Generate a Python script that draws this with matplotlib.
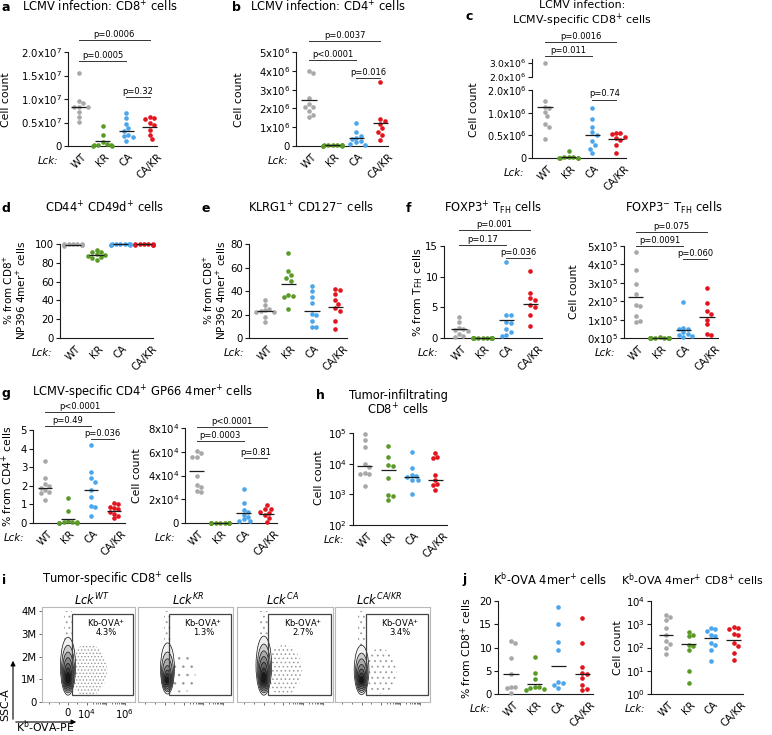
import numpy as np
import matplotlib
matplotlib.use('Agg')
import matplotlib.pyplot as plt
from matplotlib.patches import Ellipse, Rectangle
from matplotlib.ticker import NullLocator

plt.rcParams['font.family'] = ['DejaVu Sans']
plt.rcParams['mathtext.fontset'] = 'dejavusans'
plt.rcParams['hatch.linewidth'] = 0.6
plt.rcParams['hatch.color'] = '#8c8c8c'

W, H = 772, 735
GROUPS = ['WT', 'KR', 'CA', 'CA/KR']
COLORS = ['#a8a8a8', '#5b9a27', '#4ba6ec', '#e2141d']

# ---------------- data ----------------
# a: LCMV CD8+ cell count
A_WT = np.array([15.6, 9.6, 9.1, 8.4, 8.2, 8.3, 7.3, 6.1, 5.1]) * 1e6
A_KR = np.array([4.3, 2.3, 0.9, 0.4, 0.3, 0.2, 0.15, 0.1, 0.1]) * 1e6
A_CA = np.array([7.0, 5.9, 4.7, 3.8, 3.2, 2.4, 2.1, 1.9, 1.1]) * 1e6
A_CAKR = np.array([6.1, 5.9, 5.7, 4.8, 4.5, 3.5, 2.4, 1.5]) * 1e6
A_MEAN = np.array([8.25, 1.0, 3.2, 4.0]) * 1e6
A_YT = [0, 0.5e7, 1.0e7, 1.5e7, 2.0e7]
A_YL = ['0', '0.5x10$^{7}$', '1.0x10$^{7}$', '1.5x10$^{7}$', '2.0x10$^{7}$']
A_P = ['p=0.0006', 'p=0.0005', 'p=0.32']

# b: LCMV CD4+ cell count
B_WT = np.array([4.0, 3.9, 2.55, 2.25, 2.1, 2.1, 1.85, 1.65, 1.55]) * 1e6
B_KR = np.array([0.06, 0.05, 0.04, 0.04, 0.03, 0.03, 0.02, 0.02, 0.01]) * 1e6
B_CA = np.array([1.2, 0.75, 0.55, 0.45, 0.35, 0.25, 0.2, 0.12, 0.05]) * 1e6
B_CAKR = np.array([3.4, 1.45, 1.35, 1.17, 0.95, 0.77, 0.6, 0.32]) * 1e6
B_MEAN = np.array([2.46, 0.03, 0.45, 1.2]) * 1e6
B_YT = [0, 1e6, 2e6, 3e6, 4e6, 5e6]
B_YL = ['0', '1x10$^{6}$', '2x10$^{6}$', '3x10$^{6}$', '4x10$^{6}$', '5x10$^{6}$']
B_P = ['p=0.0037', 'p<0.0001', 'p=0.016']

# c: LCMV-specific CD8+ cell count (broken axis)
C_WT = np.array([2.95, 1.25, 1.13, 1.1, 1.02, 0.93, 0.75, 0.68, 0.41]) * 1e6
C_KR = np.array([0.16, 0.03, 0.02, 0.02, 0.01, 0.01, 0.01, 0.01]) * 1e6
C_CA = np.array([1.1, 0.86, 0.68, 0.58, 0.5, 0.37, 0.28, 0.2, 0.11]) * 1e6
C_CAKR = np.array([0.56, 0.55, 0.54, 0.47, 0.45, 0.4, 0.28, 0.12]) * 1e6
C_MEAN = np.array([1.12, 0.02, 0.51, 0.41]) * 1e6
C_YT_LOW = [0, 0.5e6, 1.0e6, 1.5e6]
C_YL_LOW = ['0', '0.5x10$^{6}$', '1.0x10$^{6}$', '2.0x10$^{6}$']
C_YT_UP = [2.0e6, 3.0e6]
C_YL_UP = ['2.0x10$^{6}$', '3.0x10$^{6}$']
C_P = ['p=0.0016', 'p=0.011', 'p=0.74']

# d: CD44+ CD49d+ %
D_WT = [100, 100, 99.8, 99.6, 99.5, 99.3, 99.1, 98.8, 98.2]
D_KR = [94, 92, 91, 89, 88, 87.5, 86.5, 85, 83]
D_CA = [100, 100, 100, 99.8, 99.6, 99.5, 99.4, 99.2, 99.0]
D_CAKR = [100, 100, 99.8, 99.6, 99.5, 99.4, 99.2, 99.0]
D_MEAN = [99.4, 88.4, 99.6, 99.5]
D_YT = [0, 20, 40, 60, 80, 100]

# e: KLRG1+ CD127- %
E_WT = [32, 28, 25, 23.5, 23, 22.5, 22, 18, 14]
E_KR = [72.5, 57, 53.5, 51, 48.5, 36.5, 36, 34.5, 25]
E_CA = [44.4, 40.4, 34.5, 30.2, 20.3, 19.8, 14.1, 9.3, 9.0]
E_CAKR = [41.5, 41, 37.3, 32.5, 29, 25.4, 22.6, 14.1, 7.6]
E_MEAN = [22.6, 45.8, 22.6, 26.8]
E_YT = [0, 20, 40, 60, 80]

# f left: FOXP3+ TFH %
F1_WT = [3.5, 2.6, 1.6, 1.5, 1.3, 1.2, 0.6, 0.4, 0.2]
F1_KR = [0.05, 0.04, 0.03, 0.03, 0.02, 0.02, 0.01, 0.01, 0.0]
F1_CA = [12.4, 3.8, 3.7, 2.6, 2.4, 1.5, 1.0, 0.5, 0.3]
F1_CAKR = [10.9, 7.3, 6.5, 6.2, 5.4, 5.1, 3.8, 2.0]
F1_MEAN = [1.5, 0.02, 3.0, 5.5]
F1_YT = [0, 5, 10, 15]
F1_P = ['p=0.001', 'p=0.17', 'p=0.036']

# f right: FOXP3- TFH cell count
F2_WT = np.array([4.68, 3.69, 2.91, 2.37, 1.8, 1.76, 1.22, 0.85, 0.9]) * 1e5
F2_KR = np.array([0.03, 0.02, 0.02, 0.02, 0.01, 0.01, 0.01, 0.0, 0.0]) * 1e5
F2_CA = np.array([1.98, 0.55, 0.5, 0.48, 0.3, 0.2, 0.15, 0.1, 0.05]) * 1e5
F2_CAKR = np.array([2.7, 1.92, 1.47, 1.3, 1.0, 0.75, 0.22, 0.18]) * 1e5
F2_MEAN = np.array([2.21, 0.01, 0.45, 1.13]) * 1e5
F2_YT = [0, 1e5, 2e5, 3e5, 4e5, 5e5]
F2_YL = ['0x10$^{5}$', '1x10$^{5}$', '2x10$^{5}$', '3x10$^{5}$', '4x10$^{5}$', '5x10$^{5}$']
F2_P = ['p=0.075', 'p=0.0091', 'p=0.060']

# g left: GP66 4mer+ % of CD4
G1_WT = [3.35, 2.4, 2.1, 2.0, 1.9, 1.8, 1.65, 1.6, 1.25]
G1_KR = [1.35, 0.65, 0.1, 0.05, 0.05, 0.03, 0.02, 0.02, 0.01]
G1_CA = [4.2, 2.75, 2.4, 2.2, 1.8, 1.4, 0.9, 0.85, 0.4]
G1_CAKR = [1.05, 1.0, 0.86, 0.8, 0.75, 0.6, 0.5, 0.36, 0.25]
G1_MEAN = [1.9, 0.2, 1.76, 0.65]
G1_YT = [0, 1, 2, 3, 4, 5]
G1_P = ['p<0.0001', 'p=0.49', 'p=0.036']

# g right: GP66 4mer+ cell count
G2_WT = np.array([6.1, 5.9, 5.6, 5.6, 4.0, 3.2, 3.0, 2.7, 2.6]) * 1e4
G2_KR = np.array([0.03, 0.02, 0.02, 0.02, 0.01, 0.01, 0.01, 0.0, 0.0]) * 1e4
G2_CA = np.array([2.9, 1.7, 1.1, 0.9, 0.7, 0.5, 0.3, 0.2, 0.15]) * 1e4
G2_CAKR = np.array([1.5, 1.2, 1.15, 0.9, 0.85, 0.7, 0.45, 0.1]) * 1e4
G2_MEAN = np.array([4.4, 0.02, 0.85, 0.76]) * 1e4
G2_YT = [0, 2e4, 4e4, 6e4, 8e4]
G2_YL = ['0', '2x10$^{4}$', '4x10$^{4}$', '6x10$^{4}$', '8x10$^{4}$']
G2_P = ['p<0.0001', 'p=0.0003', 'p=0.81']

# h: tumor-infiltrating CD8+ cell count (log)
H_WT = [9.0e4, 5.8e4, 3.5e4, 9.5e3, 8.0e3, 4.8e3, 4.5e3, 4.6e3, 1.9e3]
H_KR = [3.8e4, 1.7e4, 9e3, 8.5e3, 3.4e3, 950, 880, 650]
H_CA = [2.4e4, 7e3, 4.2e3, 4e3, 3.8e3, 3e3, 2.9e3, 1e3]
H_CAKR = [2.3e4, 1.7e4, 1.5e4, 4.2e3, 2.9e3, 2.1e3, 2.0e3, 1.35e3]
H_MEAN = [8.5e3, 6.3e3, 3.8e3, 2.95e3]
H_YT = [1e2, 1e3, 1e4, 1e5]
H_YL = ['10$^{2}$', '10$^{3}$', '10$^{4}$', '10$^{5}$']

# j left: Kb-OVA 4mer+ %
J1_WT = [11.4, 10.9, 7.7, 4.3, 1.6, 1.5, 1.3, 0.3]
J1_KR = [7.9, 4.5, 3.2, 1.6, 1.5, 1.3, 1.0, 0.9]
J1_CA = [18.7, 15.0, 11.2, 9.5, 2.6, 2.3, 2.0, 1.2]
J1_CAKR = [16.3, 10.9, 5.9, 4.6, 4.2, 3.4, 1.9, 1.1, 0.8]
J1_MEAN = [4.3, 2.15, 6.0, 4.2]
J1_YT = [0, 5, 10, 15, 20]

# j right: Kb-OVA 4mer+ CD8+ cell count (log)
J2_WT = [2400, 2000, 1500, 700, 340, 200, 140, 100, 55]
J2_KR = [480, 350, 300, 130, 120, 75, 10, 3]
J2_CA = [700, 600, 500, 330, 300, 150, 130, 80, 25]
J2_CAKR = [750, 700, 650, 400, 350, 150, 120, 60, 28]
J2_MEAN = [350, 137, 250, 220]
J2_YT = [1, 10, 100, 1000, 10000]
J2_YL = ['10$^{0}$', '10$^{1}$', '10$^{2}$', '10$^{3}$', '10$^{4}$']

# i: flow plots
FLOW_TITLES = [r'$\mathit{Lck}^{\mathit{WT}}$', r'$\mathit{Lck}^{\mathit{KR}}$',
               r'$\mathit{Lck}^{\mathit{CA}}$', r'$\mathit{Lck}^{\mathit{CA/KR}}$']
FLOW_PCT = ['4.3%', '1.3%', '2.7%', '3.4%']
FLOW_YT = [0, 1e6, 2e6, 3e6, 4e6]
FLOW_YL = ['0', '1M', '2M', '3M', '4M']
FLOW_XT = [0, 1, 2, 3]
FLOW_XL = ['0', '10$^{4}$', '', '10$^{6}$']
# contour levels: (half-width [display units], low [M], high [M])
FLOW_CONT = [
    [(0.40, 0.30, 2.85), (0.34, 0.40, 2.50), (0.29, 0.48, 2.20), (0.24, 0.56, 1.95),
     (0.19, 0.64, 1.70), (0.14, 0.72, 1.50), (0.09, 0.82, 1.30)],
    [(0.36, 0.35, 2.60), (0.31, 0.45, 2.20), (0.26, 0.52, 1.90), (0.21, 0.60, 1.60),
     (0.16, 0.68, 1.40), (0.11, 0.76, 1.25), (0.07, 0.84, 1.10)],
    [(0.40, 0.30, 2.90), (0.34, 0.40, 2.55), (0.29, 0.48, 2.25), (0.24, 0.56, 2.00),
     (0.19, 0.64, 1.75), (0.14, 0.72, 1.50), (0.09, 0.82, 1.30)],
    [(0.38, 0.32, 2.50), (0.32, 0.42, 2.15), (0.27, 0.50, 1.90), (0.22, 0.58, 1.65),
     (0.17, 0.66, 1.45), (0.12, 0.74, 1.28), (0.08, 0.82, 1.12)],
]
FLOW_CX = [0.0, 0.15, 0.0, 0.0]
# positive-event cloud: (x center, y center [M], width, height [M], hatch)
FLOW_CLOUD = [(1.05, 1.4, 2.0, 2.3, '.....'), (0.9, 1.3, 1.4, 1.8, '..'),
              (1.0, 1.4, 1.9, 2.2, '....'), (0.95, 1.35, 1.7, 2.0, '...')]

# ---------------- figure ----------------
fig = plt.figure(figsize=(W / 100, H / 100), dpi=100)
fig.patch.set_facecolor('white')
TICK_FS = 7.3


def add_ax(l, t, r, b):
    return fig.add_axes([l / W, 1 - b / H, (r - l) / W, (b - t) / H])


def style(ax, fs=TICK_FS):
    ax.patch.set_visible(False)
    ax.spines['top'].set_visible(False)
    ax.spines['right'].set_visible(False)
    for s in ('left', 'bottom'):
        ax.spines[s].set_linewidth(0.8)
        ax.spines[s].set_color('#1a1a1a')
    ax.tick_params(axis='y', direction='out', length=3, width=0.8,
                   labelsize=fs, pad=1.2, color='#1a1a1a')
    ax.tick_params(axis='x', length=0, labelsize=TICK_FS, pad=4)


def swarm(ax, x0, vals, d=4.4):
    vals = np.asarray(vals, float)
    pts = ax.transData.transform(np.column_stack([np.full(len(vals), float(x0)), vals]))
    p1 = ax.transData.transform([[x0 + 1.0, vals[0]]])[0]
    ppu = p1[0] - pts[0, 0]
    steps = [0.0]
    for j in range(1, 30):
        steps += [j * d * 0.5, -j * d * 0.5]
    placed = []
    offs = np.zeros(len(vals))
    for i in range(len(vals)):
        y = pts[i, 1]
        chosen = steps[-1]
        for s in steps:
            if all((s - px) ** 2 + (y - py) ** 2 >= d * d for px, py in placed):
                chosen = s
                break
        placed.append((chosen, y))
        offs[i] = chosen
    offs = np.clip(offs, -0.4 * ppu, 0.4 * ppu)
    return x0 + offs / ppu


def dotplot(ax, series, means, lo=None, hi=None, line=True):
    for i, (vals, col) in enumerate(zip(series, COLORS)):
        v = np.asarray(vals, float)
        if lo is not None:
            v = v[v >= lo]
        if hi is not None:
            v = v[v <= hi]
        if len(v) == 0:
            continue
        xs = swarm(ax, i, v)
        ax.scatter(xs, v, s=11, color=col, lw=0, zorder=3, clip_on=False)
        if line:
            ax.plot([i - 0.32, i + 0.32], [means[i]] * 2, color='#1c1c1c', lw=0.9,
                    zorder=4, solid_capstyle='butt', clip_on=False)


def brackets(ax, specs):
    for (i, j, y, label) in specs:
        ax.plot([i, j], [y, y], color='#333333', lw=0.7, clip_on=False)
        ax.annotate(label, xy=((i + j) / 2, y), xytext=(0, 1), textcoords='offset points',
                    ha='center', va='bottom', fontsize=6, annotation_clip=False)


def xcats(ax, lck=True):
    ax.set_xticks(range(4))
    ax.set_xticklabels(GROUPS, rotation=45, ha='center', va='top')
    if lck:
        ax.annotate('Lck:', xy=(0, 0), xycoords=('data', 'axes fraction'), xytext=(-21, -15),
                    textcoords='offset pixels', ha='right', va='center', style='italic',
                    fontsize=TICK_FS, annotation_clip=False)


def panel(box, xlim, ylim, yticks, ylabels, series, means, log=False, brk=None):
    ax = add_ax(*box)
    style(ax)
    if log:
        ax.set_yscale('log')
    ax.set_xlim(*xlim)
    ax.set_ylim(*ylim)
    ax.set_yticks(yticks)
    ax.set_yticklabels(ylabels)
    if log:
        ax.yaxis.set_minor_locator(NullLocator())
    xcats(ax)
    dotplot(ax, series, means)
    if brk:
        brackets(ax, brk)
    return ax


# a
panel((68, 52, 157, 146), (-0.46, 3.3), (0, 2e7), A_YT, A_YL,
      [A_WT, A_KR, A_CA, A_CAKR], A_MEAN,
      brk=[(0, 3, 22.55e6, A_P[0]), (0, 2, 18.1e6, A_P[1]), (2, 3, 10.4e6, A_P[2])])
# b
panel((296, 52, 388, 146), (-0.55, 3.33), (0, 5e6), B_YT, B_YL,
      [B_WT, B_KR, B_CA, B_CAKR], B_MEAN,
      brk=[(0, 3, 5.585e6, B_P[0]), (0, 2, 4.574e6, B_P[1]), (2, 3, 3.617e6, B_P[2])])
# c (broken axis)
axc = add_ax(532, 90, 626, 158)
style(axc, fs=6.9)
axc.set_xlim(-0.55, 3.42)
axc.set_ylim(0, 1.5e6)
axc.set_yticks(C_YT_LOW)
axc.set_yticklabels(C_YL_LOW)
xcats(axc)
C_SERIES = [C_WT, C_KR, C_CA, C_CAKR]
dotplot(axc, C_SERIES, C_MEAN, hi=1.5e6)
brackets(axc, [(0, 3, 2.56e6, C_P[0]), (0, 2, 2.24e6, C_P[1]), (2, 3, 1.29e6, C_P[2])])
axcu = add_ax(532, 59, 626, 77)
style(axcu, fs=6.6)
axcu.spines['bottom'].set_visible(False)
axcu.set_xlim(-0.55, 3.42)
axcu.set_ylim(2.0e6, 3.25e6)
axcu.set_yticks(C_YT_UP)
axcu.set_yticklabels(C_YL_UP)
axcu.set_xticks([])
dotplot(axcu, C_SERIES, C_MEAN, lo=2.0e6, line=False)
# d
panel((60, 244, 153, 338), (-0.55, 3.38), (0, 100), D_YT, [str(v) for v in D_YT],
      [D_WT, D_KR, D_CA, D_CAKR], D_MEAN)
# e
panel((249, 244, 347, 338), (-0.68, 3.49), (0, 80), E_YT, [str(v) for v in E_YT],
      [E_WT, E_KR, E_CA, E_CAKR], E_MEAN)
# f left
panel((444, 246, 542, 338), (-0.63, 3.5), (0, 15), F1_YT, [str(v) for v in F1_YT],
      [F1_WT, F1_KR, F1_CA, F1_CAKR], F1_MEAN,
      brk=[(0, 3, 17.6, F1_P[0]), (0, 2, 15.16, F1_P[1]), (2, 3, 13.04, F1_P[2])])
# f right
panel((624, 246, 718, 338), (-0.5, 3.46), (0, 5e5), F2_YT, F2_YL,
      [F2_WT, F2_KR, F2_CA, F2_CAKR], F2_MEAN,
      brk=[(0, 3, 5.76e5, F2_P[0]), (0, 2, 5.0e5, F2_P[1]), (2, 3, 4.29e5, F2_P[2])])
# g left
panel((33, 430, 125, 523), (-0.52, 3.48), (0, 5), G1_YT, [str(v) for v in G1_YT],
      [G1_WT, G1_KR, G1_CA, G1_CAKR], G1_MEAN,
      brk=[(0, 3, 5.97, G1_P[0]), (0, 2, 5.215, G1_P[1]), (2, 3, 4.516, G1_P[2])])
# g right
panel((185, 428, 277, 523), (-0.5, 3.43), (0, 8e4), G2_YT, G2_YL,
      [G2_WT, G2_KR, G2_CA, G2_CAKR], G2_MEAN,
      brk=[(0, 3, 8.08e4, G2_P[0]), (0, 2, 6.9e4, G2_P[1]), (2, 3, 5.47e4, G2_P[2])])
# h
panel((353, 433, 447, 525), (-0.5, 3.5), (1e2, 1e5), H_YT, H_YL,
      [H_WT, H_KR, H_CA, H_CAKR], H_MEAN, log=True)
# j left
panel((498, 601, 593, 694), (-0.55, 3.46), (0, 20), J1_YT, [str(v) for v in J1_YT],
      [J1_WT, J1_KR, J1_CA, J1_CAKR], J1_MEAN)
# j right
panel((651, 601, 743, 694), (-0.67, 3.42), (1, 1e4), J2_YT, J2_YL,
      [J2_WT, J2_KR, J2_CA, J2_CAKR], J2_MEAN, log=True)

# i: flow panels
FLOW_X = [(42, 135), (138, 233), (237, 333), (335, 430)]
minor_x = [-1.0, -0.5, 0.5] + [dd + np.log10(m) for dd in (1, 2) for m in range(2, 10)]
for k, (l, r) in enumerate(FLOW_X):
    ax = add_ax(l, 607, r, 702)
    ax.set_xlim(-1.37, 3.53)
    ax.set_ylim(0, 4.18e6)
    for s in ax.spines.values():
        s.set_color('#b8b8b8')
        s.set_linewidth(0.8)
    ax.set_xticks(FLOW_XT)
    ax.set_xticks(minor_x, minor=True)
    ax.tick_params(axis='both', which='both', direction='out', length=2.5, width=0.6,
                   color='#555555', labelsize=TICK_FS, pad=1.5)
    ax.tick_params(axis='x', which='minor', length=1.6)
    if k == 0:
        ax.set_yticks(FLOW_YT)
        ax.set_yticklabels(FLOW_YL)
        ax.set_xticklabels(FLOW_XL)
    else:
        ax.set_yticks([])
        ax.set_xticklabels([])
    # positive cloud
    cx, cy, cw, ch, hatch = FLOW_CLOUD[k]
    ax.add_patch(Ellipse((cx, cy * 1e6), cw, ch * 1e6, facecolor='none',
                         edgecolor='#9a9a9a', lw=0, hatch=hatch, zorder=1))
    ax.add_patch(Rectangle((FLOW_CX[k] - 0.2, 2.4e6), 0.4, 1.6e6, facecolor='none',
                           edgecolor='#9a9a9a', lw=0, hatch='...', zorder=1))
    levels = FLOW_CONT[k]
    n = len(levels)
    for li, (hw, lo, hi) in enumerate(levels):
        g = 0.95 - 0.85 * li / (n - 1)
        ax.add_patch(Ellipse((FLOW_CX[k], (lo + hi) / 2 * 1e6), 2 * hw, (hi - lo) * 1e6,
                             facecolor=(g, g, g), edgecolor='#111111', lw=0.5, zorder=2 + li))
    ax.add_patch(Rectangle((0.21, 0.33e6), 3.42 - 0.21, 3.88e6 - 0.33e6, fill=False,
                           edgecolor='#444444', lw=0.9, zorder=20))
    ax.text(2.0, 3.47e6, 'Kb-OVA$^{+}$', ha='center', va='center', fontsize=6, zorder=21)
    ax.text(2.0, 3.05e6, FLOW_PCT[k], ha='center', va='center', fontsize=6, zorder=21)

# ---------------- overlay texts (pixel coordinates) ----------------
ov = fig.add_axes([0, 0, 1, 1])
ov.set_xlim(0, W)
ov.set_ylim(H, 0)
ov.axis('off')
ov.set_zorder(50)

TFS = 8.3


def T(x, y, s, ha='left', fs=TFS, **kw):
    ov.text(x, y, s, ha=ha, va='center', fontsize=fs, **kw)


def L(x, y, s):
    ov.text(x, y, s, ha='left', va='center', fontsize=9, fontweight='bold')


def YL(x, y, s, fs=7.8):
    ov.text(x, y, s, ha='center', va='center', fontsize=fs, rotation=90)


L(1, 7, 'a'); T(22, 7, 'LCMV infection: CD8$^{+}$ cells')
L(232, 7, 'b'); T(250, 7, 'LCMV infection: CD4$^{+}$ cells')
L(466, 16, 'c'); T(582, 5, 'LCMV infection:', ha='center', fs=7.9)
T(582, 20, 'LCMV-specific CD8$^{+}$ cells', ha='center', fs=7.9)
L(2, 208, 'd'); T(105, 208, 'CD44$^{+}$ CD49d$^{+}$ cells', ha='center')
L(202, 208, 'e'); T(248, 208, 'KLRG1$^{+}$ CD127$^{-}$ cells')
L(406, 208, 'f'); T(444, 208, r'FOXP3$^{+}$ T$_{\mathrm{FH}}$ cells'); T(625, 208, r'FOXP3$^{-}$ T$_{\mathrm{FH}}$ cells')
L(2, 393, 'g'); T(32, 393, 'LCMV-specific CD4$^{+}$ GP66 4mer$^{+}$ cells')
L(316, 395, 'h'); T(398, 395, 'Tumor-infiltrating', ha='center'); T(398, 410, 'CD8$^{+}$ cells', ha='center')
L(2, 580, 'i'); T(42, 580, 'Tumor-specific CD8$^{+}$ cells')
L(462, 580, 'j'); T(493, 580, r'K$^{\mathrm{b}}$-OVA 4mer$^{+}$ cells')
T(621, 580, r'K$^{\mathrm{b}}$-OVA 4mer$^{+}$ CD8$^{+}$ cells', fs=7.9)

YL(6, 100, 'Cell count')
YL(239, 100, 'Cell count')
YL(474, 110, 'Cell count')
YL(8, 290, '% from CD8$^{+}$', fs=7.5); YL(21, 290, 'NP396 4mer$^{+}$ cells', fs=7.5)
YL(208, 290, '% from CD8$^{+}$', fs=7.5); YL(221, 290, 'NP396 4mer$^{+}$ cells', fs=7.5)
YL(418, 292, r'% from T$_{\mathrm{FH}}$ cells')
YL(574, 292, 'Cell count')
YL(7, 476, '% from CD4$^{+}$ cells')
YL(137, 476, 'Cell count')
YL(319, 478, 'Cell count')
YL(466, 648, '% from CD8$^{+}$ cells')
YL(618, 648, 'Cell count')

# flow titles and axis arrows
for t, cx in zip(FLOW_TITLES, [92, 188, 282, 379]):
    T(cx, 600, t, ha='center')
ov.annotate('', xy=(13, 658), xytext=(13, 722),
            arrowprops=dict(arrowstyle='-|>', lw=0.8, color='black', mutation_scale=7))
ov.annotate('', xy=(79, 722), xytext=(13, 722),
            arrowprops=dict(arrowstyle='-|>', lw=0.8, color='black', mutation_scale=7))
YL(5, 705, 'SSC-A')
T(45, 727, r'K$^{\mathrm{b}}$-OVA-PE', ha='center', fs=7.8)

fig.savefig('out.png', dpi=100)
